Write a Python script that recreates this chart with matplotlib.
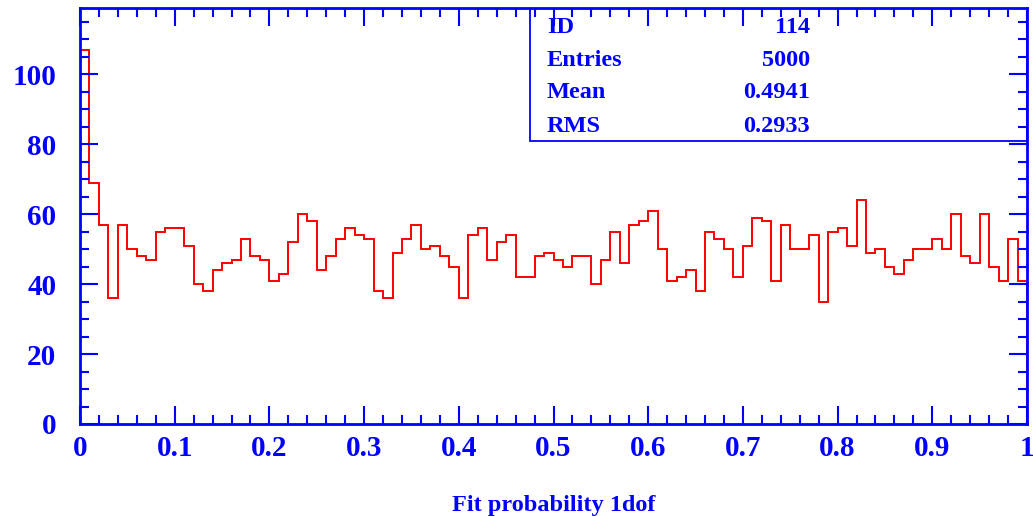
import numpy as np
import matplotlib.pyplot as plt
from matplotlib.ticker import MultipleLocator, FixedLocator
from matplotlib.patches import Rectangle

# bin contents, 100 bins on [0, 1]
counts = [107, 69, 57, 36, 57, 50, 48, 47, 55, 56,
          56, 51, 40, 38, 44, 46, 47, 53, 48, 47,
          41, 43, 52, 60, 58, 44, 48, 53, 56, 54,
          53, 38, 36, 49, 53, 57, 50, 51, 48, 45,
          36, 54, 56, 47, 52, 54, 42, 42, 48, 49,
          47, 45, 48, 48, 40, 47, 55, 46, 57, 58,
          61, 50, 41, 42, 44, 38, 55, 53, 50, 42,
          51, 59, 58, 41, 57, 50, 50, 54, 35, 55,
          56, 51, 64, 49, 50, 45, 43, 47, 50, 50,
          53, 50, 60, 48, 46, 60, 45, 41, 53, 41]
bin_edges = np.linspace(0, 1, len(counts) + 1)

x_ticks = [0, 0.1, 0.2, 0.3, 0.4, 0.5, 0.6, 0.7, 0.8, 0.9, 1]
x_labels = ["0", "0.1", "0.2", "0.3", "0.4", "0.5", "0.6", "0.7", "0.8", "0.9", "1"]
y_ticks = [0, 20, 40, 60, 80, 100]

stat_names = ["ID", "Entries", "Mean", "RMS"]
stat_values = ["114", "5000", "0.4941", "0.2933"]

BLUE = "#0000ff"
FONT = ["Liberation Serif", "DejaVu Serif"]

plt.rcParams["font.family"] = FONT
plt.rcParams["font.weight"] = "bold"

fig = plt.figure(figsize=(10.33, 5.16), dpi=100)
ax = fig.add_axes([80 / 1033, 92 / 516, 947 / 1033, 416 / 516])

ax.stairs(counts, bin_edges, color="red", linewidth=1.4)

ax.set_xlim(0, 1)
ax.set_ylim(0, 119)

ax.xaxis.set_major_locator(FixedLocator(x_ticks))
ax.set_xticklabels(x_labels)
ax.xaxis.set_minor_locator(MultipleLocator(0.02))
ax.yaxis.set_major_locator(FixedLocator(y_ticks))
ax.yaxis.set_minor_locator(MultipleLocator(5))

for spine in ax.spines.values():
    spine.set_color(BLUE)
    spine.set_linewidth(2)

ax.tick_params(which="both", direction="in", color=BLUE, width=1.5,
               top=True, right=True, labelcolor=BLUE, labelsize=21)
ax.tick_params(which="major", length=13)
ax.tick_params(which="minor", length=6.5)
ax.tick_params(axis="y", pad=17)
ax.tick_params(axis="x", pad=8)

ax.set_xlabel("Fit probability 1dof", color=BLUE, fontsize=17.5,
              fontweight="bold", labelpad=24)

# statistics box (transparent, ticks show through)
box = Rectangle((0.475, 0.68), 0.525, 0.32, transform=ax.transAxes,
                facecolor="none", edgecolor=BLUE, linewidth=1.3, zorder=3)
ax.add_patch(box)
rows_y = [0.954, 0.875, 0.796, 0.716]
for name, val, yy in zip(stat_names, stat_values, rows_y):
    ax.text(0.493, yy, name, transform=ax.transAxes, color=BLUE,
            fontsize=17.5, fontweight="bold", va="center", ha="left", zorder=4)
    ax.text(0.771, yy, val, transform=ax.transAxes, color=BLUE,
            fontsize=17.5, fontweight="bold", va="center", ha="right", zorder=4)

fig.savefig("out.png", dpi=100)
